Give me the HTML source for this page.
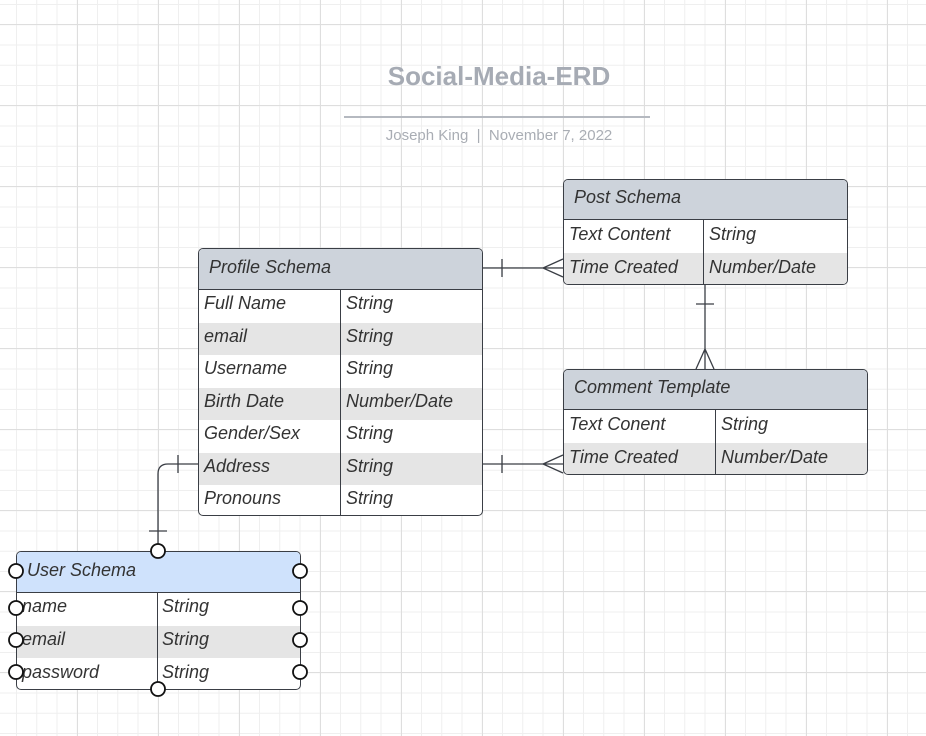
<!DOCTYPE html>
<html><head><style>
body{margin:0;width:926px;height:736px;overflow:hidden;background:#fff;font-family:"Liberation Sans",sans-serif;position:relative}
.grid{position:absolute;left:0;top:0;width:926px;height:736px;
background-image:linear-gradient(#dedede 1px,transparent 1px),linear-gradient(90deg,#dedede 1px,transparent 1px),linear-gradient(#efefef 1px,transparent 1px),linear-gradient(90deg,#efefef 1px,transparent 1px);
background-size:81px 81px,81px 81px,20.25px 20.25px,20.25px 20.25px;
background-position:0 24px,77px 0,0 4px,16px 0}
.t{position:absolute;border:1px solid #3a3e45;border-radius:5px;overflow:hidden;background:#fff;box-sizing:border-box}
.h{position:absolute;left:0;right:0;top:0;background:#cdd3db;border-bottom:1px solid #3a3e45;font-style:italic;font-size:18px;color:#333;padding-left:10px;padding-bottom:4px;box-sizing:border-box;display:flex;align-items:center}
.r{position:absolute;left:0;right:0;font-style:italic;font-size:18px;color:#333;display:flex;align-items:center;padding-bottom:5px;box-sizing:border-box}
.r.s{background:#e5e5e5}
.r span{position:absolute;padding-left:5px}
.v{position:absolute;width:1px;background:#3a3e45;bottom:0}
</style></head><body>
<div class="grid"></div>
<div style="position:absolute;left:299px;width:400px;top:61px;text-align:center;font-weight:bold;font-size:26px;color:#a6abb4">Social-Media-ERD</div>
<div style="position:absolute;left:344px;width:306px;top:116px;height:2px;background:#b5b9c0"></div>
<div style="position:absolute;left:299px;width:400px;top:127px;text-align:center;font-size:15px;color:#a9adb4">Joseph King &nbsp;|&nbsp; November 7, 2022</div>

<!-- Post -->
<div class="t" style="left:563px;top:179px;width:285px;height:106px">
<div class="h" style="height:40px">Post Schema</div>
<div class="r" style="top:40px;height:33px"><span style="left:0">Text Content</span><span style="left:140px">String</span></div>
<div class="r s" style="top:73px;height:33px"><span style="left:0">Time Created</span><span style="left:140px">Number/Date</span></div>
<div class="v" style="left:139px;top:40px"></div>
</div>
<!-- Profile -->
<div class="t" style="left:198px;top:248px;width:285px;height:268px">
<div class="h" style="height:41px">Profile Schema</div>
<div class="r" style="top:41px;height:32.5px"><span style="left:0">Full Name</span><span style="left:142px">String</span></div>
<div class="r s" style="top:73.5px;height:32.5px"><span style="left:0">email</span><span style="left:142px">String</span></div>
<div class="r" style="top:106px;height:32.5px"><span style="left:0">Username</span><span style="left:142px">String</span></div>
<div class="r s" style="top:138.5px;height:32.5px"><span style="left:0">Birth Date</span><span style="left:142px">Number/Date</span></div>
<div class="r" style="top:171px;height:32.5px"><span style="left:0">Gender/Sex</span><span style="left:142px">String</span></div>
<div class="r s" style="top:203.5px;height:32.5px"><span style="left:0">Address</span><span style="left:142px">String</span></div>
<div class="r" style="top:236px;height:32px"><span style="left:0">Pronouns</span><span style="left:142px">String</span></div>
<div class="v" style="left:141px;top:41px"></div>
</div>
<!-- Comment -->
<div class="t" style="left:563px;top:369px;width:305px;height:106px">
<div class="h" style="height:40px">Comment Template</div>
<div class="r" style="top:40px;height:33px"><span style="left:0">Text Conent</span><span style="left:152px">String</span></div>
<div class="r s" style="top:73px;height:33px"><span style="left:0">Time Created</span><span style="left:152px">Number/Date</span></div>
<div class="v" style="left:151px;top:40px"></div>
</div>
<!-- User -->
<div class="t" style="left:16px;top:551px;width:285px;height:139px">
<div class="h" style="height:41px;background:#cfe2fc">User Schema</div>
<div class="r" style="top:41px;height:32.5px"><span style="left:0">name</span><span style="left:140px">String</span></div>
<div class="r s" style="top:73.5px;height:32.5px"><span style="left:0">email</span><span style="left:140px">String</span></div>
<div class="r" style="top:106px;height:33px"><span style="left:0">password</span><span style="left:140px">String</span></div>
<div class="v" style="left:140px;top:41px"></div>
</div>

<svg width="926" height="736" style="position:absolute;left:0;top:0" fill="none" stroke="#3a3e45" stroke-width="1.3">
<path d="M482 268H563M502 259V277M563 259L543 268L563 277"/>
<path d="M482 464H563M502 455V473M563 455L543 464L563 473"/>
<path d="M705 284V369M696 304H714M696 369L705 349L714 369"/>
<path d="M198 464H168Q158 464 158 474V551M178 455V473M149 531H167"/>
<g fill="#fff" stroke="#111" stroke-width="1.8">
<circle cx="158" cy="551" r="7"/><circle cx="158" cy="689" r="7"/>
<circle cx="16" cy="571" r="7"/><circle cx="16" cy="608" r="7"/><circle cx="16" cy="640" r="7"/><circle cx="16" cy="672" r="7"/>
<circle cx="300" cy="571" r="7"/><circle cx="300" cy="608" r="7"/><circle cx="300" cy="640" r="7"/><circle cx="300" cy="672" r="7"/>
</g>
</svg>
</body></html>
